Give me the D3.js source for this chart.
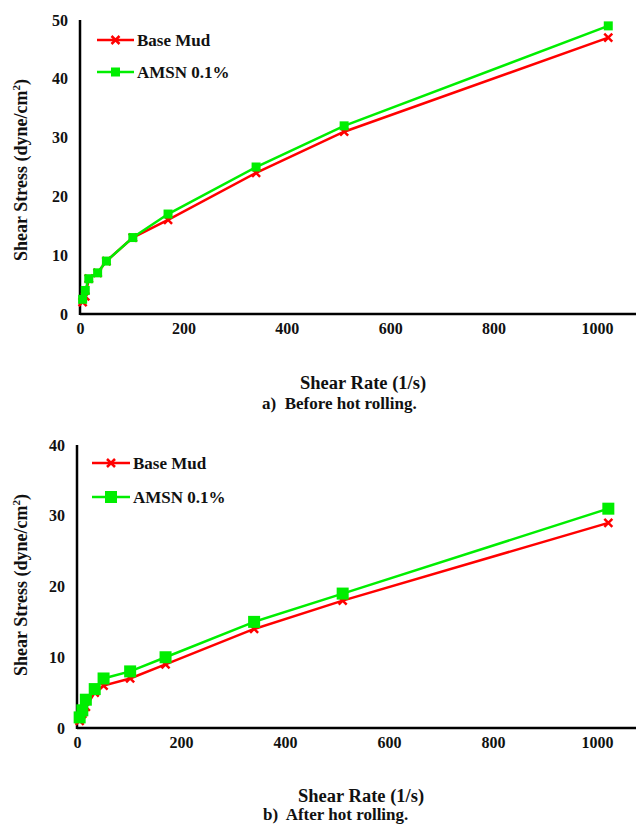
<!DOCTYPE html>
<html>
<head>
<meta charset="utf-8">
<script src="https://cdn.jsdelivr.net/npm/d3@7"></script>
<style>
  html, body { margin: 0; padding: 0; background: #fff; }
  svg { display: block; }
  svg text { font-family: "Liberation Serif", "Times New Roman", Times, "DejaVu Serif", serif !important; font-weight: bold; fill: #111; }
</style>
</head>
<body>
<svg id="chart" width="636" height="827"></svg>
<script>
// Shear rates of the rotational viscometer (1/s)
const shearRates = [5.1, 10.2, 17, 34.1, 51.1, 102.2, 170.3, 340.6, 510.9, 1021.8];

// Shear stress (dyne/cm²) before hot rolling
const baseMudBefore = [2, 3, 6, 7, 9, 13, 16, 24, 31, 47];
const amsnBefore    = [2.5, 4, 6, 7, 9, 13, 17, 25, 32, 49];

// Shear stress (dyne/cm²) after hot rolling
const baseMudAfter = [1, 2, 3, 5, 6, 7, 9, 14, 18, 29];
const amsnAfter    = [1.5, 2.5, 4, 5.5, 7, 8, 10, 15, 19, 31];

const seriesNames = ["Base Mud", "AMSN 0.1%"];
const seriesColors = ["#ff0000", "#00ee00"];
const xTicks = [0, 200, 400, 600, 800, 1000];
const yTicksBefore = [0, 10, 20, 30, 40, 50];
const yTicksAfter = [0, 10, 20, 30, 40];
const captions = ["a)  Before hot rolling.", "b)  After hot rolling."];

const svg = d3.select("#chart");

function drawPanel(opt) {
  const g = svg.append("g");
  const x = d3.scaleLinear().domain([0, 1000]).range([opt.left, opt.x1000]);
  const y = d3.scaleLinear().domain([0, opt.yMax]).range([opt.bottom, opt.top]);

  // axes (no tick marks, thick black lines)
  const xAxis = g.append("g").attr("transform", `translate(0,${opt.bottom})`)
    .call(d3.axisBottom(x).tickValues(xTicks).tickFormat(d3.format("d")).tickSize(0).tickPadding(9));
  xAxis.attr("font-family", null).attr("font-size", null);
  xAxis.select(".domain").remove();
  xAxis.selectAll("text").style("font-size", "16px");

  const yAxis = g.append("g").attr("transform", `translate(${opt.left},0)`)
    .call(d3.axisLeft(y).tickValues(opt.yTicks).tickFormat(d3.format("d")).tickSize(0).tickPadding(12));
  yAxis.attr("font-family", null).attr("font-size", null);
  yAxis.select(".domain").remove();
  yAxis.selectAll("text").style("font-size", "16px");

  g.append("line").attr("x1", opt.left).attr("x2", 636)
    .attr("y1", opt.bottom).attr("y2", opt.bottom)
    .attr("stroke", "#000").attr("stroke-width", 2.5);
  g.append("line").attr("x1", opt.left).attr("x2", opt.left)
    .attr("y1", opt.top).attr("y2", opt.bottom + 1)
    .attr("stroke", "#000").attr("stroke-width", 2.5);

  const line = d3.line().x((d, i) => x(shearRates[i])).y(d => y(d));

  // series lines and markers, Base Mud first so AMSN sits on top
  opt.series.forEach((vals, si) => {
    const col = seriesColors[si];
    g.append("path").datum(vals).attr("d", line)
      .attr("fill", "none").attr("stroke", col).attr("stroke-width", 2.5);
    if (si === 0) {
      const s = opt.xSize;
      g.selectAll(null).data(vals).enter().append("path")
        .attr("transform", (d, i) => `translate(${x(shearRates[i])},${y(d)})`)
        .attr("d", `M${-s},${-s}L${s},${s}M${-s},${s}L${s},${-s}`)
        .attr("stroke", col).attr("stroke-width", 2.5).attr("fill", "none");
    } else {
      const s = opt.sqSize;
      g.selectAll(null).data(vals).enter().append("rect")
        .attr("x", (d, i) => x(shearRates[i]) - s / 2)
        .attr("y", d => y(d) - s / 2)
        .attr("width", s).attr("height", s).attr("fill", col);
    }
  });

  // legend
  opt.legendY.forEach((ly, si) => {
    const col = seriesColors[si];
    g.append("line").attr("x1", opt.legendX0).attr("x2", opt.legendX1)
      .attr("y1", ly).attr("y2", ly).attr("stroke", col).attr("stroke-width", 2.5);
    const mx = (opt.legendX0 + opt.legendX1) / 2;
    if (si === 0) {
      const s = opt.xSize;
      g.append("path").attr("transform", `translate(${mx},${ly})`)
        .attr("d", `M${-s},${-s}L${s},${s}M${-s},${s}L${s},${-s}`)
        .attr("stroke", col).attr("stroke-width", 2.5);
    } else {
      const s = opt.sqSize;
      g.append("rect").attr("x", mx - s / 2).attr("y", ly - s / 2)
        .attr("width", s).attr("height", s).attr("fill", col);
    }
    g.append("text").attr("x", opt.legendX1 + 3).attr("y", ly + 6)
      .style("font-size", "17px").text(seriesNames[si]);
  });

  // y axis title with superscript
  const yt = g.append("text")
    .attr("transform", `translate(${opt.yTitleX},${opt.yTitleY}) rotate(-90)`)
    .attr("text-anchor", "middle").style("font-size", "18px");
  yt.append("tspan").text("Shear Stress (dyne/cm");
  yt.append("tspan").attr("dy", -7).style("font-size", "11px").text("2");
  yt.append("tspan").attr("dy", 7).text(")");

  // x axis title and caption
  g.append("text").attr("x", opt.xTitleX).attr("y", opt.xTitleY)
    .style("font-size", "18.5px").text("Shear Rate (1/s)");
  g.append("text").attr("x", opt.captionX).attr("y", opt.captionY)
    .style("font-size", "17px").attr("xml:space", "preserve").style("white-space", "pre").text(opt.caption);
}

drawPanel({
  left: 80, x1000: 597, top: 20, bottom: 314, yMax: 50, yTicks: yTicksBefore,
  series: [baseMudBefore, amsnBefore], xSize: 4, sqSize: 9,
  legendX0: 97, legendX1: 134, legendY: [40, 72],
  yTitleX: 27, yTitleY: 170,
  xTitleX: 300, xTitleY: 389, captionX: 262, captionY: 409, caption: captions[0]
});

drawPanel({
  left: 77, x1000: 597, top: 445, bottom: 728, yMax: 40, yTicks: yTicksAfter,
  series: [baseMudAfter, amsnAfter], xSize: 4, sqSize: 12,
  legendX0: 92, legendX1: 130, legendY: [463, 497],
  yTitleX: 27, yTitleY: 585,
  xTitleX: 298, xTitleY: 802, captionX: 263, captionY: 820, caption: captions[1]
});
</script>
</body>
</html>
